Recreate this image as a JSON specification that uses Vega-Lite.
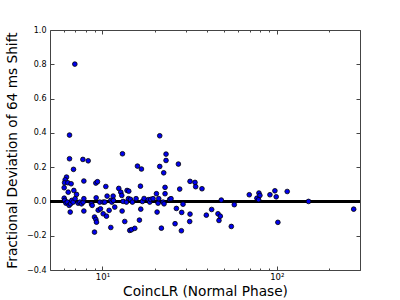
{
  "$schema": "https://vega.github.io/schema/vega-lite/v6.json",
  "width": 310,
  "height": 240,
  "autosize": "none",
  "padding": {"left": 50, "top": 30, "right": 40, "bottom": 30},
  "background": "white",
  "config": {
    "view": {"stroke": "#444", "strokeWidth": 1},
    "font": "DejaVu Sans",
    "axis": {"grid": false, "domain": false, "labelFont": "DejaVu Sans", "titleFont": "DejaVu Sans", "labelFontSize": 8, "labelColor": "#000", "titleFontWeight": "normal", "titleFontSize": 13.7, "titleColor": "#000", "tickColor": "#444"}
  },
  "data": {"values": [
    {"x": 6.94, "y": 0.801}, {"x": 6.47, "y": 0.387}, {"x": 6.47, "y": 0.249}, {"x": 6.82, "y": 0.187},
    {"x": 6.22, "y": 0.142}, {"x": 6.11, "y": 0.126}, {"x": 6.06, "y": 0.109}, {"x": 6.33, "y": 0.109},
    {"x": 6.61, "y": 0.103}, {"x": 6.36, "y": 0.054}, {"x": 6.03, "y": 0.080}, {"x": 6.03, "y": 0.019},
    {"x": 6.08, "y": 0.006}, {"x": 6.17, "y": -0.010}, {"x": 6.28, "y": -0.004}, {"x": 6.44, "y": -0.023},
    {"x": 6.56, "y": -0.014}, {"x": 6.67, "y": 0.006}, {"x": 6.79, "y": -0.004}, {"x": 6.97, "y": 0.016},
    {"x": 7.10, "y": 0.041}, {"x": 6.85, "y": 0.064}, {"x": 6.53, "y": -0.062}, {"x": 7.25, "y": -0.010},
    {"x": 7.42, "y": -0.004}, {"x": 7.58, "y": -0.014}, {"x": 7.75, "y": -0.004}, {"x": 7.82, "y": 0.016},
    {"x": 7.72, "y": 0.245}, {"x": 7.82, "y": 0.119}, {"x": 7.82, "y": -0.056}, {"x": 8.28, "y": 0.237},
    {"x": 8.65, "y": -0.014}, {"x": 8.73, "y": -0.023}, {"x": 9.00, "y": -0.091}, {"x": 9.16, "y": -0.105},
    {"x": 9.24, "y": -0.121}, {"x": 9.00, "y": -0.179}, {"x": 9.16, "y": 0.107}, {"x": 9.36, "y": 0.115},
    {"x": 9.20, "y": 0.021}, {"x": 9.45, "y": -0.051}, {"x": 9.74, "y": -0.043}, {"x": 9.65, "y": -0.004},
    {"x": 10.09, "y": -0.004}, {"x": 10.31, "y": -0.004}, {"x": 10.09, "y": -0.072}, {"x": 10.54, "y": -0.086},
    {"x": 10.45, "y": 0.087}, {"x": 10.63, "y": 0.031}, {"x": 10.92, "y": -0.052}, {"x": 11.16, "y": -0.152},
    {"x": 11.16, "y": 0.006}, {"x": 11.31, "y": -0.004}, {"x": 11.51, "y": 0.031}, {"x": 11.76, "y": -0.033},
    {"x": 11.56, "y": 0.006}, {"x": 12.40, "y": 0.076}, {"x": 12.73, "y": 0.054}, {"x": 12.90, "y": 0.035},
    {"x": 12.96, "y": -0.056}, {"x": 13.02, "y": 0.278}, {"x": 13.13, "y": 0.0}, {"x": 13.42, "y": -0.117},
    {"x": 13.72, "y": -0.004}, {"x": 13.84, "y": 0.064}, {"x": 14.15, "y": 0.060}, {"x": 14.09, "y": 0.016},
    {"x": 14.34, "y": -0.169}, {"x": 14.47, "y": 0.012}, {"x": 14.66, "y": -0.165}, {"x": 14.85, "y": -0.004},
    {"x": 15.32, "y": -0.157}, {"x": 15.59, "y": 0.016}, {"x": 15.87, "y": 0.206}, {"x": 16.29, "y": -0.109},
    {"x": 16.51, "y": 0.089}, {"x": 16.58, "y": -0.045}, {"x": 16.73, "y": 0.189}, {"x": 16.95, "y": 0.0},
    {"x": 17.32, "y": 0.017}, {"x": 18.34, "y": 0.010}, {"x": 18.67, "y": -0.004}, {"x": 18.92, "y": 0.012},
    {"x": 19.51, "y": 0.016}, {"x": 20.39, "y": 0.045}, {"x": 20.57, "y": -0.062}, {"x": 20.84, "y": -0.010},
    {"x": 21.02, "y": 0.016}, {"x": 21.30, "y": 0.204}, {"x": 21.30, "y": 0.383}, {"x": 21.77, "y": -0.156},
    {"x": 22.26, "y": -0.004}, {"x": 22.45, "y": 0.167}, {"x": 22.55, "y": -0.014}, {"x": 22.85, "y": 0.045},
    {"x": 22.85, "y": 0.082}, {"x": 23.15, "y": 0.239}, {"x": 23.15, "y": 0.276}, {"x": 24.30, "y": 0.012},
    {"x": 24.73, "y": 0.016}, {"x": 26.08, "y": -0.130}, {"x": 26.54, "y": -0.041}, {"x": 27.25, "y": 0.218},
    {"x": 27.73, "y": 0.072}, {"x": 28.47, "y": -0.064}, {"x": 28.97, "y": -0.016}, {"x": 28.35, "y": -0.171},
    {"x": 31.78, "y": 0.117}, {"x": 31.78, "y": -0.074}, {"x": 31.64, "y": -0.117}, {"x": 33.94, "y": 0.111},
    {"x": 34.24, "y": 0.086}, {"x": 37.22, "y": 0.074}, {"x": 39.41, "y": -0.080}, {"x": 42.29, "y": -0.047},
    {"x": 45.97, "y": -0.072}, {"x": 46.58, "y": -0.111}, {"x": 47.40, "y": -0.086}, {"x": 48.03, "y": 0.008},
    {"x": 54.83, "y": -0.146}, {"x": 57.02, "y": -0.019}, {"x": 69.50, "y": 0.039}, {"x": 76.89, "y": 0.019},
    {"x": 78.60, "y": 0.010}, {"x": 78.95, "y": 0.049}, {"x": 80.0, "y": 0.035}, {"x": 91.3, "y": 0.039},
    {"x": 97.5, "y": 0.062}, {"x": 99.2, "y": 0.027}, {"x": 101.4, "y": -0.122}, {"x": 114.7, "y": 0.058},
    {"x": 152, "y": 0.0}, {"x": 276, "y": -0.045}
  ]},
  "resolve": {"axis": {"x": "independent", "y": "independent"}},
  "layer": [
    {
      "mark": {"type": "rule", "color": "#000", "strokeWidth": 1.6},
      "encoding": {"y": {"datum": 0, "type": "quantitative", "scale": {"domain": [-0.4, 1.0], "nice": false}, "axis": null}}
    },
    {
      "mark": {"type": "point", "filled": true, "fill": "#0000ee", "stroke": "#000", "strokeWidth": 0.8, "size": 22, "opacity": 1},
      "encoding": {
        "x": {"field": "x", "type": "quantitative",
          "scale": {"type": "log", "domain": [5, 300], "nice": false},
          "axis": {"orient": "bottom", "title": "CoincLR (Normal Phase)", "values": [6,7,8,9,10,20,30,40,50,60,70,80,90,100,200,300],
            "labelExpr": "datum.value == 10 ? '10¹' : datum.value == 100 ? '10²' : ''",
            "tickSize": {"condition": {"test": "datum.value == 10 || datum.value == 100", "value": -4}, "value": -2},
            "labelPadding": 6, "titlePadding": 4, "labelFontSize": 8.5}},
        "y": {"field": "y", "type": "quantitative",
          "scale": {"domain": [-0.4, 1.0], "nice": false},
          "axis": {"orient": "left", "title": "Fractional Deviation of 64 ms Shift", "values": [-0.4,-0.2,0,0.2,0.4,0.6,0.8,1.0], "format": ".1f",
            "tickSize": -4, "labelPadding": 8, "titlePadding": 7}}
      }
    },
    {
      "mark": {"type": "point", "opacity": 0},
      "encoding": {
        "x": {"field": "x", "type": "quantitative",
          "scale": {"type": "log", "domain": [5, 300], "nice": false},
          "axis": {"orient": "top", "title": null, "labels": false, "values": [6,7,8,9,10,20,30,40,50,60,70,80,90,100,200,300],
            "tickSize": {"condition": {"test": "datum.value == 10 || datum.value == 100", "value": -4}, "value": -2}}},
        "y": {"field": "y", "type": "quantitative",
          "scale": {"domain": [-0.4, 1.0], "nice": false},
          "axis": {"orient": "right", "title": null, "labels": false, "values": [-0.4,-0.2,0,0.2,0.4,0.6,0.8,1.0], "tickSize": -4}}
      }
    }
  ]
}
